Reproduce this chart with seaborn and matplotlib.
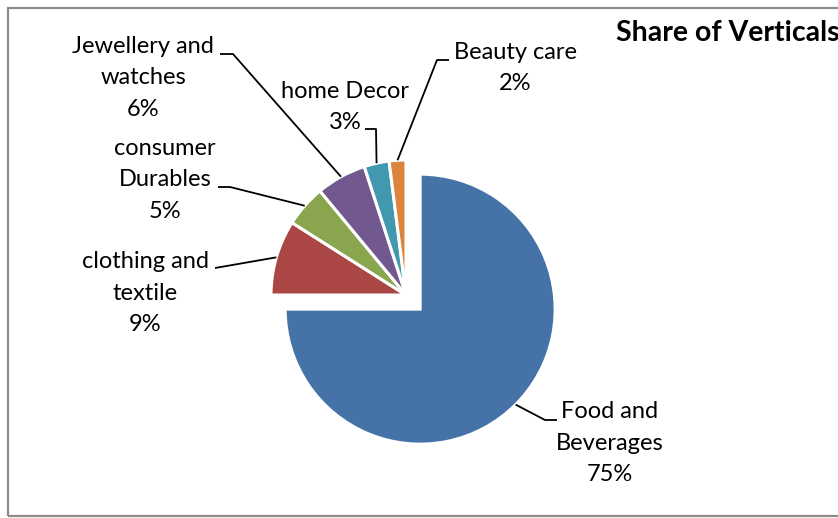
import matplotlib
matplotlib.use("Agg")
import matplotlib.pyplot as plt
import seaborn as sns
import numpy as np
from matplotlib.patches import Rectangle

# ---- data ----
categories = ["Food and\nBeverages", "clothing and\ntextile", "consumer\nDurables",
              "Jewellery and\nwatches", "home Decor", "Beauty care"]
shares = [75, 9, 5, 6, 3, 2]
pct_labels = ["75%", "9%", "5%", "6%", "3%", "2%"]
colors = ["#4572A7", "#AA4643", "#89A54E", "#71588F", "#4198AF", "#DB843D"]
title = "Share of Verticals"

# ---- layout (pixel coords, top-left origin) ----
W, H = 838, 518
explode = [20, 0, 0, 0, 0, 0]
label_pos = [(610, 443), (145, 293), (165, 180), (143, 78), (345, 107), (515, 68)]
leader_pts = [
    [(545, 420), (557, 420)],
    [(215, 268)],
    [(230, 187), (218, 187)],
    [(233, 54), (220, 54)],
    [(376, 129), (365, 129)],
    [(437, 60), (449, 60)],
]

sns.set_theme(style="white")
plt.rcParams["font.family"] = ["Lato", "DejaVu Sans"]

fig = plt.figure(figsize=(W / 100, H / 100), dpi=100)
ax = fig.add_axes([0, 0, 1, 1])

cx, cy, R = 406, H - 295, 135
wedges, _ = ax.pie(shares, colors=sns.color_palette(colors), startangle=90,
                   counterclock=False, explode=explode, center=(cx, cy), radius=R,
                   wedgeprops=dict(edgecolor="white", linewidth=2.2), frame=True)
ax.set_xlim(0, W)
ax.set_ylim(0, H)
ax.set_aspect("equal")
ax.axis("off")

for w, cat, pct, (tx, ty), pts in zip(wedges, categories, pct_labels, label_pos, leader_pts):
    th = np.deg2rad((w.theta1 + w.theta2) / 2)
    ax0 = w.center[0] + w.r * np.cos(th)
    ay0 = w.center[1] + w.r * np.sin(th)
    xs = [ax0] + [p[0] for p in pts]
    ys = [ay0] + [H - p[1] for p in pts]
    ax.plot(xs, ys, color="black", lw=1.3, solid_capstyle="butt")
    ax.text(tx, H - ty, cat + "\n" + pct, ha="center", va="center",
            multialignment="center", fontsize=17, linespacing=1.62, color="black")

ax.text(616, H - 33, title, ha="left", va="center", fontsize=20.5,
        fontweight="bold", color="black")

ax.add_patch(Rectangle((7.5, H - 516), W, 516 - 7.5, fill=False,
                       edgecolor="#8c8c8c", lw=1.6, clip_on=False))

fig.savefig("out.png", dpi=100)
